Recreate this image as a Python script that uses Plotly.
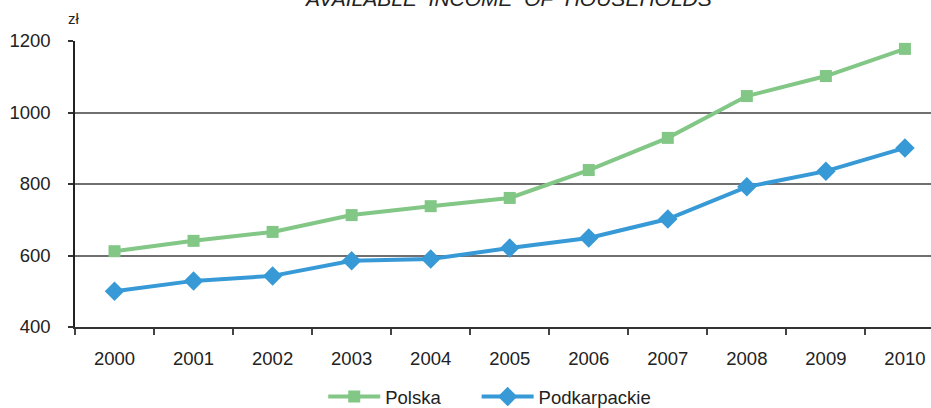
import plotly.graph_objects as go

years = ["2000", "2001", "2002", "2003", "2004", "2005", "2006", "2007", "2008", "2009", "2010"]
polska = [612, 641, 666, 713, 738, 761, 839, 929, 1046, 1102, 1178]
podkarpackie = [500, 529, 543, 585, 590, 621, 649, 702, 792, 836, 901]

green = "#82C785"
blue = "#379AD7"

fig = go.Figure()
fig.add_trace(go.Scatter(x=years, y=polska, name="Polska" + "\u00a0" * 6, mode="lines+markers",
                         line=dict(color=green, width=4),
                         marker=dict(symbol="square", size=12, color=green)))
fig.add_trace(go.Scatter(x=years, y=podkarpackie, name="Podkarpackie", mode="lines+markers",
                         line=dict(color=blue, width=4),
                         marker=dict(symbol="diamond", size=15, color=blue)))

font = "Liberation Sans, Arial, sans-serif"
fig.update_layout(
    width=931, height=408,
    margin=dict(l=75, r=0, t=41, b=81, autoexpand=False),
    paper_bgcolor="white", plot_bgcolor="white",
    font=dict(family=font, size=18.5, color="#222222"),
    showlegend=True,
    legend=dict(orientation="h", x=0.29, xanchor="left", y=-0.245, yanchor="middle",
                font=dict(size=18.5, color="#222222"), itemwidth=52),
    xaxis=dict(type="category", range=[-0.5, 10.33], tickson="boundaries",
               ticks="outside", ticklen=6, tickcolor="#444444", tickwidth=1.5,
               showline=True, linecolor="#333333", linewidth=1.5,
               showgrid=False, ticklabelstandoff=14, fixedrange=True),
    yaxis=dict(range=[400, 1200], tickvals=[400, 600, 800, 1000, 1200],
               ticks="outside", ticklen=5, tickcolor="#333333", tickwidth=1.5,
               showline=True, linecolor="#222222", linewidth=1.5,
               showgrid=True, gridcolor="#707070", gridwidth=1.5,
               zeroline=False, ticklabelstandoff=14, fixedrange=True),
    annotations=[
        dict(text="AVAILABLE  INCOME  OF  HOUSEHOLDS", xref="paper", yref="paper",
             x=0.506, y=1.149, xanchor="center", yanchor="middle", showarrow=False,
             font=dict(family=font, size=21, color="#222222", style="italic")),
        dict(text="zł", xref="paper", yref="paper", x=-0.001, y=1.080,
             xanchor="center", yanchor="middle", showarrow=False,
             font=dict(family=font, size=15, color="#222222")),
    ],
)
fig.write_html("out.html", config={"displayModeBar": False},
               post_script="document.body.style.margin='0';document.body.style.overflow='hidden';")
